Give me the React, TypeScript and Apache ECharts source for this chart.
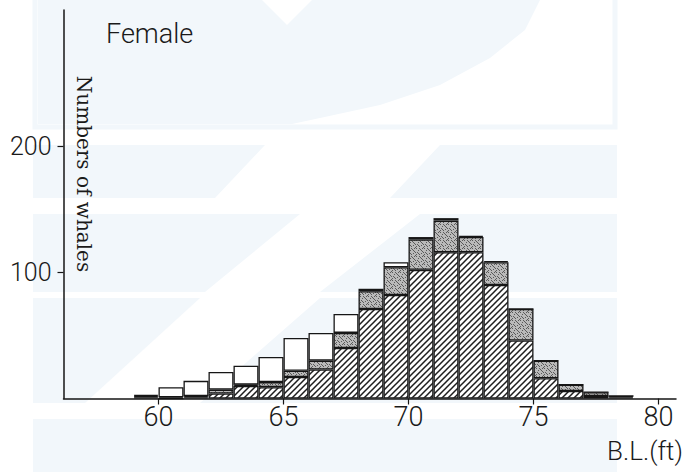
import React, { useEffect, useRef } from "react";
import * as echarts from "echarts";

// Body-length bins (left edge, ft)
const bins = ["59", "60", "61", "62", "63", "64", "65", "66", "67", "68", "69", "70", "71", "72", "73", "74", "75", "76", "77", "78"];
// Stacked counts per bin
const hatchedCounts = [1, 0, 1, 4, 10, 9, 17, 23, 40, 71, 82, 102, 116, 116, 90, 46, 16, 6, 2, 1];
const greyCounts = [1, 1, 1, 3, 1, 4, 5, 7, 12, 14, 22, 24, 25, 12, 18, 25, 14, 5, 3, 1];
const whiteCounts = [1, 8, 12, 14, 15, 20, 26, 22, 15, 2, 4, 2, 2, 1, 1, 0, 0, 0, 0, 0];
// Axis ticks
const xTicks = [60, 65, 70, 75, 80];
const yTicks = [100, 200];

const WM = "#f2f7fb";
const INK = "#161616";
const TICK_FONT = "Roboto, 'DejaVu Sans', sans-serif";

function hatchPattern(): HTMLCanvasElement {
  const c = document.createElement("canvas");
  c.width = 6;
  c.height = 6;
  const g = c.getContext("2d")!;
  g.fillStyle = "#ffffff";
  g.fillRect(0, 0, 6, 6);
  g.strokeStyle = "#1e1e1e";
  g.lineWidth = 1.5;
  g.beginPath();
  g.moveTo(-1, 7); g.lineTo(7, -1);
  g.moveTo(-4, 4); g.lineTo(4, -4);
  g.moveTo(2, 10); g.lineTo(10, 2);
  g.stroke();
  return c;
}

function stipplePattern(): HTMLCanvasElement {
  const c = document.createElement("canvas");
  c.width = 8;
  c.height = 8;
  const g = c.getContext("2d")!;
  g.fillStyle = "#bababa";
  g.fillRect(0, 0, 8, 8);
  g.fillStyle = "#5a5a5a";
  const dots = [[0, 0], [4, 1], [2, 2], [6, 3], [1, 4], [5, 5], [3, 6], [7, 7], [6, 0], [0, 6], [2, 5], [5, 2], [7, 4], [3, 0]];
  dots.forEach(([x, y]) => g.fillRect(x, y, 1, 1));
  return c;
}

export default function App() {
  const ref = useRef<HTMLDivElement>(null);

  useEffect(() => {
    document.body.style.margin = "0";
    const chart = echarts.init(ref.current!, null, { renderer: "svg" });
    const border = { borderColor: INK, borderWidth: 1.3 };

    const bg = (points: number[][]) => ({
      type: "polygon",
      z: -10,
      silent: true,
      shape: { points },
      style: { fill: WM },
    });

    const barSeries = (data: number[], color: any) => ({
      type: "bar",
      stack: "n",
      xAxisIndex: 1,
      yAxisIndex: 1,
      barWidth: 25,
      barCategoryGap: "0%",
      data,
      itemStyle: { color, ...border },
    });

    chart.setOption({
      animation: false,
      backgroundColor: "#ffffff",
      grid: [
        { left: 63.5, top: 10, width: 612.5, height: 388.5, containLabel: false },
        { left: 133.5, top: 10, width: 500, height: 388.5, containLabel: false },
      ],
      xAxis: [
        {
          type: "value",
          gridIndex: 0,
          min: 56.2,
          max: 80.7,
          axisLine: { show: true, lineStyle: { color: INK, width: 1.5 } },
          axisTick: { show: true, customValues: xTicks, length: 6, lineStyle: { color: INK, width: 1.2 } },
          axisLabel: {
            customValues: xTicks,
            color: "#1a1a1a",
            fontSize: 27,
            fontFamily: TICK_FONT,
            fontWeight: 300,
            margin: 5,
          },
          splitLine: { show: false },
          z: 5,
        },
        {
          type: "category",
          gridIndex: 1,
          data: bins,
          boundaryGap: true,
          show: false,
        },
      ],
      yAxis: [
        {
          type: "value",
          gridIndex: 0,
          min: 0,
          max: 308,
          axisLine: { show: true, lineStyle: { color: INK, width: 1.5 } },
          axisTick: { show: true, customValues: yTicks, length: 6, lineStyle: { color: INK, width: 1.2 } },
          axisLabel: {
            customValues: yTicks,
            color: "#1a1a1a",
            fontSize: 25,
            fontFamily: TICK_FONT,
            fontWeight: 300,
            margin: 12,
          },
          splitLine: { show: false },
        },
        {
          type: "value",
          gridIndex: 1,
          min: 0,
          max: 308,
          show: false,
          splitLine: { show: false },
        },
      ],
      series: [
        barSeries(hatchedCounts, { image: hatchPattern(), repeat: "repeat" }),
        barSeries(greyCounts, { image: stipplePattern(), repeat: "repeat" }),
        barSeries(whiteCounts, "#ffffff"),
      ],
      graphic: [
        // faint watermark
        {
          type: "rect",
          z: -10,
          silent: true,
          shape: { x: 35, y: -10, width: 580, height: 137 },
          style: { fill: "none", stroke: WM, lineWidth: 5 },
        },
        bg([[38, 0], [262, 0], [287, 25], [312, 0], [540, 0], [525, 30], [490, 58], [440, 85], [380, 105], [320, 118], [292, 124], [38, 124]]),
        bg([[33, 145], [265, 145], [215, 198], [33, 198]]),
        bg([[440, 145], [617, 145], [617, 198], [390, 198]]),
        bg([[33, 214], [300, 214], [205, 292], [33, 292]]),
        bg([[420, 214], [617, 214], [617, 292], [320, 292]]),
        bg([[33, 298], [200, 298], [85, 403], [33, 403]]),
        bg([[320, 298], [617, 298], [617, 403], [200, 403]]),
        bg([[33, 419], [617, 419], [617, 472], [33, 472]]),
        // texts
        {
          type: "text",
          x: 106,
          y: 34,
          style: {
            text: "Female",
            fill: "#1a1a1a",
            fontSize: 27,
            fontFamily: TICK_FONT,
            fontWeight: 300,
            align: "left",
            verticalAlign: "middle",
          },
        },
        {
          type: "text",
          x: 84,
          y: 174,
          rotation: -Math.PI / 2,
          style: {
            text: "Numbers of whales",
            fill: "#1a1a1a",
            fontSize: 20,
            fontFamily: "'DejaVu Serif', 'Liberation Serif', serif",
            align: "center",
            verticalAlign: "middle",
          },
        },
        {
          type: "text",
          x: 645,
          y: 451,
          style: {
            text: "B.L.(ft)",
            fill: "#1a1a1a",
            fontSize: 26,
            fontFamily: TICK_FONT,
            fontWeight: 300,
            align: "center",
            verticalAlign: "middle",
          },
        },
      ],
    });
    return () => chart.dispose();
  }, []);

  return <div ref={ref} style={{ width: 689, height: 472 }} />;
}
